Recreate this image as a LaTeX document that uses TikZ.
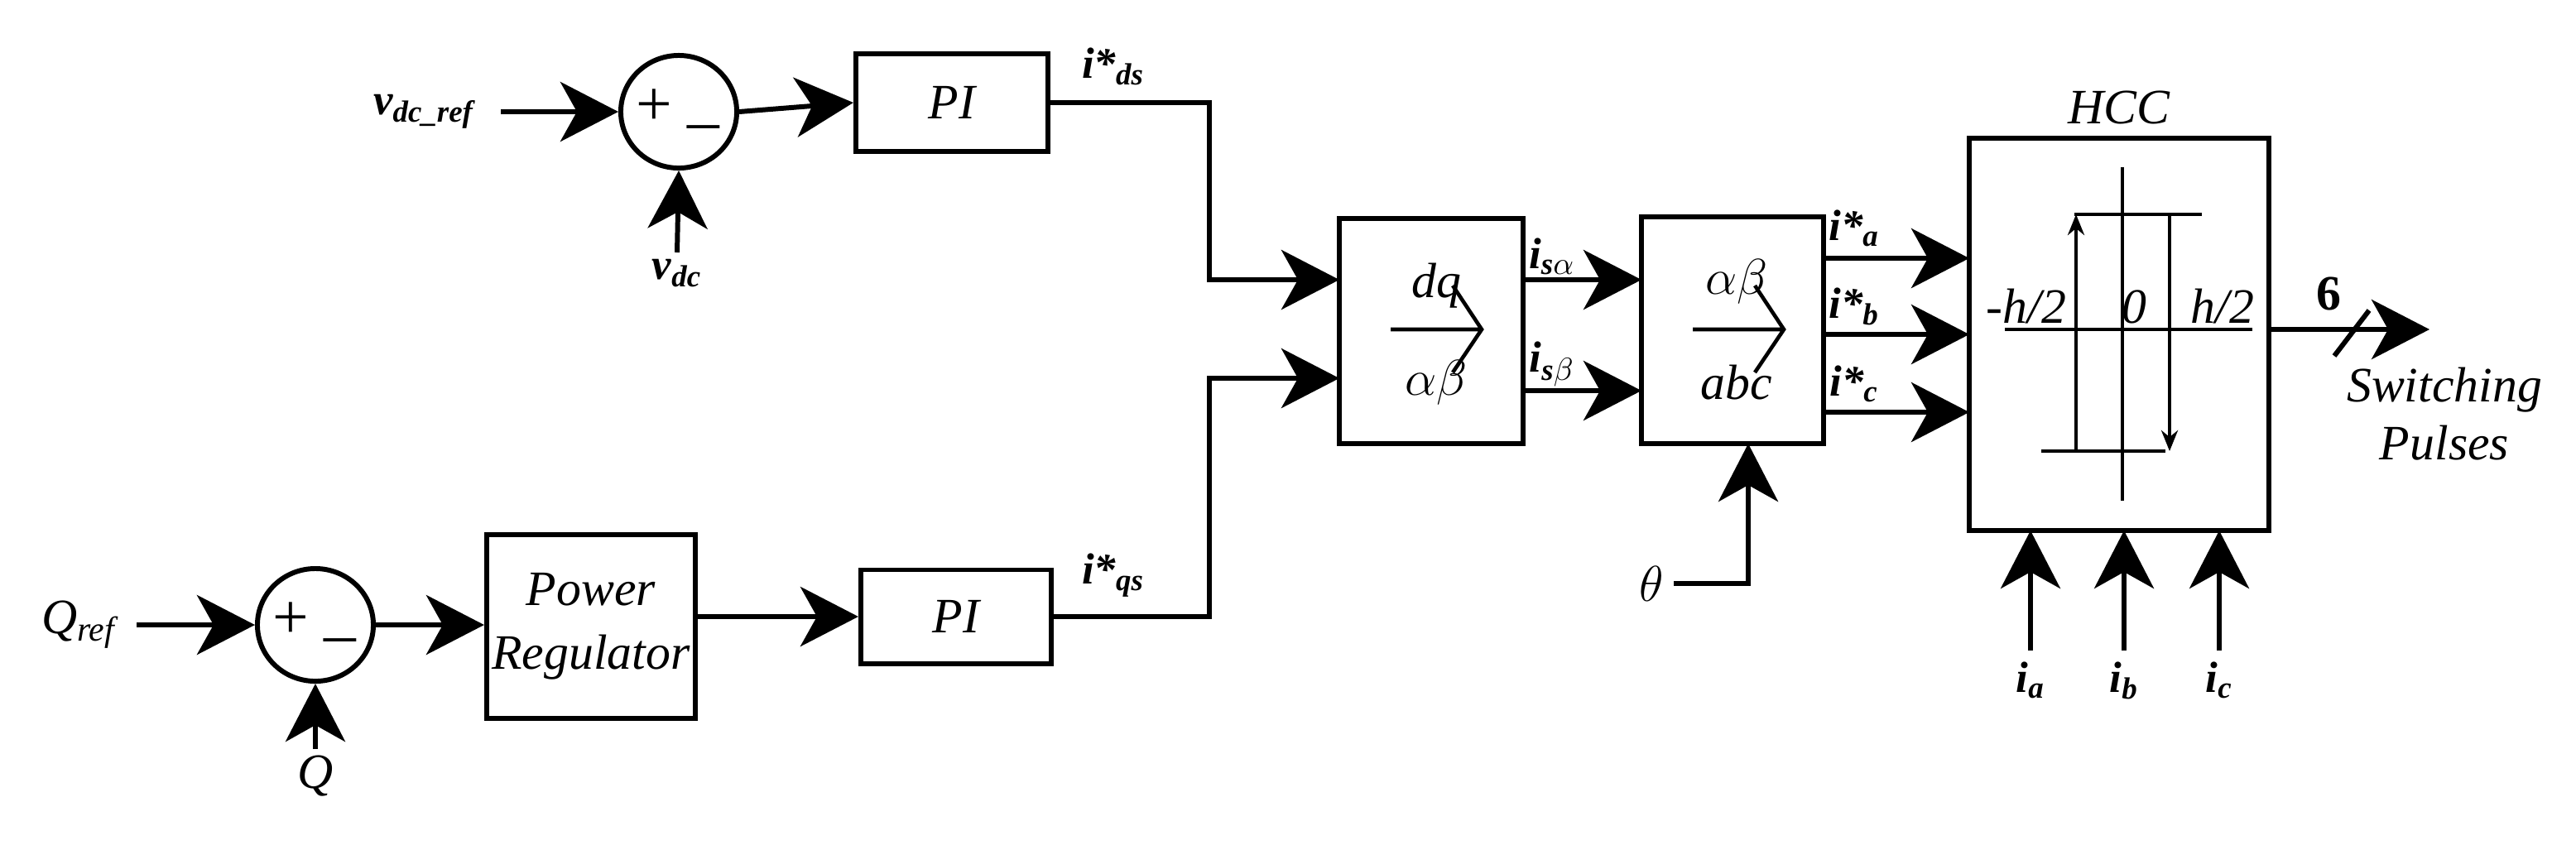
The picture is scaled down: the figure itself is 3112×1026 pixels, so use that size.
\documentclass[tikz,border=0pt]{standalone}
\usepackage{fontspec}
\setmainfont{Liberation Serif}
\usetikzlibrary{arrows.meta,shapes.geometric}
\newcommand{\mysub}[1]{\textsubscript{\textit{#1}}}
\begin{document}
\begin{tikzpicture}[x=0.01cm,y=-0.01cm,
  ln/.style={line width=1.7pt},
  big/.style={ln,-{Stealth[length=0.7cm,width=0.72cm,inset=0.2cm]}},
  small/.style={line width=1.3pt,-{Stealth[length=0.25cm,width=0.2cm]}},
  blk/.style={draw,line width=1.7pt,inner sep=0pt,font=\fontsize{17}{20}\selectfont\itshape},
  sum/.style={draw,ellipse,line width=1.7pt,minimum width=1.4cm,minimum height=1.36cm,inner sep=0pt},
  lab/.style={font=\fontsize{17}{20}\selectfont\itshape},
  slab/.style={font=\fontsize{15}{18}\selectfont\bfseries\itshape}]
\useasboundingbox (0,0) rectangle (3112,1026);
% top branch
\node[slab] (vref) at (512,135) {v\mysub{dc\_ref}};
\coordinate (vrefs) at (605,135);
\node[sum] (s1) at (820,135) {};
\node[font=\fontsize{22}{22}\selectfont] at (790,130) {+};
\node[font=\fontsize{22}{22}\selectfont] at (850,150) {\_};
\node[slab] (vdc) at (818,330) {v\mysub{dc}};
\coordinate (vdcs) at (818,305);
\node[blk,minimum width=2.32cm,minimum height=1.17cm] (pi1) at (1150,124) {PI};
\node[slab] at (1345,80) {i*\mysub{ds}};
% bottom branch
\node[lab] (qref) at (95,755) {Q\mysub{ref}};
\coordinate (qrefs) at (165,755);
\node[sum] (s2) at (381,755) {};
\node[font=\fontsize{22}{22}\selectfont] at (351,750) {+};
\node[font=\fontsize{22}{22}\selectfont] at (411,770) {\_};
\node[lab] (q) at (381,938) {Q};
\coordinate (qs) at (381,905);
\node[blk,minimum width=2.52cm,minimum height=2.21cm,align=center] (pr) at (714,757) {Power\\[2pt]Regulator};
\node[blk,minimum width=2.3cm,minimum height=1.13cm] (pi2) at (1155,745) {PI};
\node[slab] at (1345,695) {i*\mysub{qs}};
% transforms
\node[blk,minimum width=2.22cm,minimum height=2.72cm] (dq) at (1729,400) {};
\node[lab] at (1735,345) {dq};
\node[lab] at (1735,462) {$\alpha\beta$};
\draw[line width=1.3pt] (1680,398)--(1790,398) (1755,345)--(1790,398)--(1755,450);
\node[blk,minimum width=2.2cm,minimum height=2.74cm] (ab) at (2093,399) {};
\node[lab] at (2098,340) {$\alpha\beta$};
\node[lab] at (2098,462) {abc};
\draw[line width=1.3pt] (2045,398)--(2155,398) (2120,345)--(2155,398)--(2120,450);
\node[lab] (th) at (1995,705) {$\theta$};
\node[slab] at (1875,310) {i\mysub{s$\alpha$}};
\node[slab] at (1875,440) {i\mysub{s$\beta$}};
% HCC
\node[blk,minimum width=3.62cm,minimum height=4.74cm] (hcc) at (2560,404) {};
\node[lab] at (2560,130) {HCC};
\draw[line width=1.3pt] (2564,202)--(2564,605) (2422,398)--(2721,398)
  (2506,259)--(2660,259) (2466,545)--(2616,545);
\draw[small] (2508,545)--(2508,259);
\draw[small] (2621,259)--(2621,545);
\node[lab,anchor=base] at (2448,390) {-h/2};
\node[lab,anchor=base] at (2578,390) {0};
\node[lab,anchor=base] at (2685,390) {h/2};
\node[slab] at (2240,276) {i*\mysub{a}};
\node[slab] at (2240,370) {i*\mysub{b}};
\node[slab] at (2240,464) {i*\mysub{c}};
\coordinate (out) at (2935,398);
\node[font=\fontsize{17}{20}\selectfont\bfseries] at (2813,355) {6};
\draw[ln] (2820,430)--(2862,375);
\node[lab,align=center] at (2953,500) {Switching\\Pulses};
\foreach \x/\n in {2453/a,2566/b,2681/c}{
  \coordinate (c\n) at (\x,786);
  \node[slab] at (\x,822) {i\mysub{\n}};
  \draw[big] (c\n)--(\x,641);
}
% connectors
\draw[big] (vrefs)--(s1.west);
\draw[big] (vdcs)--(s1.south);
\draw[big] (s1.east)--(pi1.west);
\draw[big] (pi1.east)--(1461,124)--(1461,338)--(1618,338);
\draw[big] (qrefs)--(s2.west);
\draw[big] (qs)--(s2.south);
\draw[big] (s2.east)--(pr.west|-s2.east);
\draw[big] (pr.east|-pi2.west)--(pi2.west);
\draw[big] (pi2.east)--(1461,745)--(1461,457)--(1618,457);
\draw[big] (1840,338)--(1983,338);
\draw[big] (1840,472)--(1983,472);
\draw[big] (th.east)--(2112,705)--(2112,536);
\draw[big] (2203,312)--(2379,312);
\draw[big] (2203,404)--(2379,404);
\draw[big] (2203,498)--(2379,498);
\draw[big] (hcc.east|-out)--(out);
\end{tikzpicture}
\end{document}
